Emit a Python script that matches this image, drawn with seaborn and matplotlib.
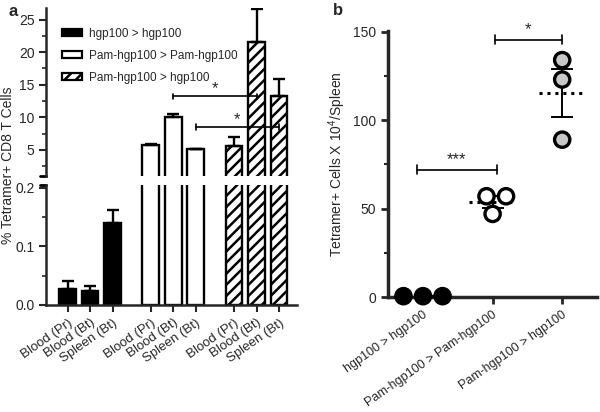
import numpy as np
import pandas as pd
import seaborn as sns
import matplotlib.pyplot as plt
from matplotlib.patches import Patch

groups = ['hgp100 > hgp100', 'Pam-hgp100 > Pam-hgp100', 'Pam-hgp100 > hgp100']
tissues = ['Blood (Pr)', 'Blood (Bt)', 'Spleen (Bt)']

# panel a: mean % tetramer+ CD8 T cells and upper error, per tissue
pct_hgp = [0.027, 0.023, 0.140]
pct_hgp_err = [0.013, 0.010, 0.022]
pct_pam = [5.7, 10.1, 5.1]
pct_pam_err = [0.25, 0.4, 0.1]
pct_mix = [5.6, 21.6, 13.2]
pct_mix_err = [1.4, 5.0, 2.6]

# panel b: tetramer+ cells x 10^4 per spleen, one value per mouse
cells_hgp = [0.5, 0.5, 0.5]
cells_pam = [57, 57, 47]
cells_mix = [134, 123, 89]

sns.set_style('ticks')
plt.rcParams['font.family'] = ['Liberation Sans', 'DejaVu Sans']
plt.rcParams['mathtext.default'] = 'regular'
plt.rcParams['hatch.linewidth'] = 1.8

# ---- build panel a table (bars spaced by group)
rows = []
for gi, (g, m, e) in enumerate(zip(groups, [pct_hgp, pct_pam, pct_mix],
                                   [pct_hgp_err, pct_pam_err, pct_mix_err])):
    for ti, t in enumerate(tissues):
        rows.append(dict(group=g, tissue=t, pos=gi * 3.7 + ti, pct=m[ti], err=e[ti]))
dfa = pd.DataFrame(rows)

fig = plt.figure(figsize=(6, 4.12), dpi=100)
ax_top = fig.add_axes([0.077, 0.573, 0.418, 0.408])
ax_bot = fig.add_axes([0.077, 0.26, 0.418, 0.291])
axb = fig.add_axes([0.647, 0.279, 0.348, 0.646])

pal = {groups[0]: 'black', groups[1]: 'white', groups[2]: 'white'}
for ax in (ax_top, ax_bot):
    sns.barplot(data=dfa, x='pos', y='pct', hue='group', hue_order=groups,
                palette=pal, native_scale=True, width=0.75, errorbar=None,
                edgecolor='black', linewidth=1.7, legend=False, ax=ax)
    for bar in ax.containers[2]:
        bar.set_hatch('///')
    ax.errorbar(dfa['pos'], dfa['pct'], yerr=[np.zeros(len(dfa)), dfa['err']],
                fmt='none', ecolor='black', elinewidth=1.7, capsize=4, capthick=1.7)
    ax.set_xlim(-0.95, 10.2)
    ax.set_xlabel('')
    ax.set_ylabel('')
    ax.spines['right'].set_visible(False)
    ax.spines['top'].set_visible(False)
    ax.spines['left'].set_linewidth(1.8)
    ax.tick_params(axis='y', labelsize=10, width=1.5, length=5)
    ax.tick_params(axis='y', which='minor', width=1.2, length=3)

ax_top.set_ylim(1.0, 26.8)
ax_top.set_yticks([5, 10, 15, 20, 25])
ax_top.set_yticks(np.arange(2.5, 26, 2.5), minor=True)
ax_top.spines['bottom'].set_visible(False)
ax_top.set_xticks([])

ax_bot.set_ylim(0, 0.205)
ax_bot.set_yticks([0.0, 0.1, 0.2])
ax_bot.set_yticks([0.05, 0.15], minor=True)
ax_bot.spines['bottom'].set_linewidth(1.8)
ax_bot.set_xticks(dfa['pos'])
ax_bot.set_xticklabels(dfa['tissue'], rotation=35, ha='right', rotation_mode='anchor', fontsize=9.5)
ax_bot.tick_params(axis='x', width=1.5, length=5)

# axis break marks
for ax, yy in ((ax_top, 0), (ax_bot, 1)):
    ax.plot([-0.025, 0], [yy, yy], transform=ax.transAxes, color='black',
            lw=2, clip_on=False)

# significance brackets
def bracket(ax, x0, x1, y, h, label, dy):
    ax.plot([x0, x1], [y, y], color='black', lw=1.2, clip_on=False)
    ax.plot([x0, x0], [y - h, y + h], color='black', lw=1.2, clip_on=False)
    ax.plot([x1, x1], [y - h, y + h], color='black', lw=1.2, clip_on=False)
    ax.text((x0 + x1) / 2, y + dy, label, ha='center', va='bottom', fontsize=12)

bracket(ax_top, 4.7, 8.4, 13.2, 0.45, '*', 0.0)
bracket(ax_top, 5.7, 9.4, 8.5, 0.45, '*', 0.0)

ax_top.legend(handles=[Patch(facecolor='black', edgecolor='black', lw=1.6),
                       Patch(facecolor='white', edgecolor='black', lw=1.6),
                       Patch(facecolor='white', edgecolor='black', lw=1.6, hatch='///')],
              labels=groups, loc='upper left', bbox_to_anchor=(0.02, 0.945),
              frameon=False, fontsize=8.5, handlelength=1.7, handleheight=0.5,
              labelspacing=0.85, handletextpad=0.6)

fig.text(0.014, 0.60, '% Tetramer+ CD8 T Cells', rotation=90, ha='center',
         va='center', fontsize=10)
fig.text(0.022, 0.973, 'a', fontsize=12, fontweight='bold', ha='center', va='center')
fig.text(0.563, 0.975, 'b', fontsize=12, fontweight='bold', ha='center', va='center')

# ---- panel b
dfb = pd.DataFrame({
    'group': [groups[0]] * len(cells_hgp) + [groups[1]] * len(cells_pam) + [groups[2]] * len(cells_mix),
    'cells': cells_hgp + cells_pam + cells_mix,
})
for i, vals in enumerate([cells_hgp, cells_pam, cells_mix]):
    v = np.array(vals, dtype=float)
    m = v.mean()
    sem = v.std(ddof=1) / np.sqrt(len(v))
    axb.hlines(m, i - 0.34, i + 0.34, colors='black', linestyles=(0, (1, 1.6)), lw=2.2, zorder=1)
    if sem > 0:
        axb.errorbar(i, m, yerr=sem, fmt='none', ecolor='black', elinewidth=1.4,
                     capsize=8, capthick=1.4, zorder=1)

sns.swarmplot(data=dfb, x='group', y='cells', hue='group', order=groups, hue_order=groups,
              palette=['black', 'white', '#c8c8c8'], size=11, edgecolor='black',
              linewidth=2.4, legend=False, ax=axb)
for c in axb.collections:
    c.set_clip_on(False)
    c.set_zorder(3)

bracket(axb, -0.09, 1.06, 72, 2.5, '***', 1.5)
bracket(axb, 1.03, 1.99, 145.5, 2.5, '*', 1.5)

axb.set_xlim(-0.5, 2.5)
axb.set_ylim(0, 150.5)
axb.set_yticks([0, 50, 100, 150])
axb.set_yticks([25, 75, 125], minor=True)
axb.set_xlabel('')
axb.set_ylabel('Tetramer+ Cells X 10$^4$/Spleen', fontsize=10)
axb.set_xticks([0, 1, 2])
axb.set_xticklabels(groups, rotation=35, ha='right', rotation_mode='anchor', fontsize=9)
for s in ('top', 'right'):
    axb.spines[s].set_visible(False)
for s in ('left', 'bottom'):
    axb.spines[s].set_linewidth(2.5)
axb.tick_params(axis='both', labelsize=10, width=2, length=5)
axb.tick_params(axis='x', labelsize=9)
axb.tick_params(axis='y', which='minor', width=1.5, length=3)

fig.savefig('out.png', dpi=100)
